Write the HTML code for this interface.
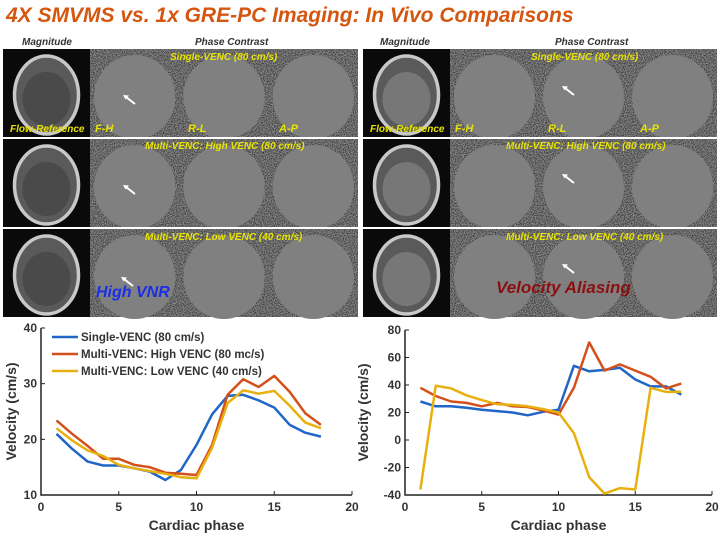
<!DOCTYPE html>
<html><head><meta charset="utf-8">
<style>
body{margin:0;width:720px;height:535px;background:#fff;position:relative;overflow:hidden;font-family:"Liberation Sans",sans-serif}
.abs{position:absolute}
.title{left:6px;top:4px;font-size:21px;font-weight:bold;font-style:italic;color:#d4560f;white-space:nowrap}
.hdr{font-size:10px;font-style:italic;font-weight:bold;color:#333}
.lab{font-size:10px;font-style:italic;font-weight:bold;color:#e8e400;white-space:nowrap}
</style></head><body>
<div class="abs title">4X SMVMS vs. 1x GRE-PC Imaging: In Vivo Comparisons</div>

<svg class="abs" style="left:0;top:0" width="720" height="320">
<defs>
<filter id="noise" x="0" y="0" width="100%" height="100%">
<feTurbulence type="fractalNoise" baseFrequency="0.9" numOctaves="2" seed="3"/>
<feColorMatrix type="matrix" values="0 0 0 0 0  0 0 0 0 0  0 0 0 0 0  0 0 0 -2.6 1.7"/>
</filter>
</defs>
<g id="panels"></g>
</svg>

<div class="abs hdr" style="left:22px;top:37px">Magnitude</div>
<div class="abs hdr" style="left:195px;top:37px">Phase Contrast</div>
<div class="abs hdr" style="left:380px;top:37px">Magnitude</div>
<div class="abs hdr" style="left:555px;top:37px">Phase Contrast</div>

<div class="abs lab" style="left:170px;top:52px">Single-VENC (80 cm/s)</div>
<div class="abs lab" style="left:10px;top:124px">Flow-Reference</div>
<div class="abs lab" style="left:95px;top:123px;font-size:11px">F-H</div>
<div class="abs lab" style="left:188px;top:123px;font-size:11px">R-L</div>
<div class="abs lab" style="left:279px;top:123px;font-size:11px">A-P</div>
<div class="abs lab" style="left:145px;top:141px">Multi-VENC: High VENC (80 cm/s)</div>
<div class="abs lab" style="left:145px;top:232px">Multi-VENC: Low VENC (40 cm/s)</div>
<div class="abs" style="left:96px;top:284px;font-size:16px;font-weight:bold;font-style:italic;color:#1a2ee8">High VNR</div>

<div class="abs lab" style="left:531px;top:52px">Single-VENC (80 cm/s)</div>
<div class="abs lab" style="left:370px;top:124px">Flow-Reference</div>
<div class="abs lab" style="left:455px;top:123px;font-size:11px">F-H</div>
<div class="abs lab" style="left:548px;top:123px;font-size:11px">R-L</div>
<div class="abs lab" style="left:640px;top:123px;font-size:11px">A-P</div>
<div class="abs lab" style="left:506px;top:141px">Multi-VENC: High VENC (80 cm/s)</div>
<div class="abs lab" style="left:506px;top:232px">Multi-VENC: Low VENC (40 cm/s)</div>
<div class="abs" style="left:496px;top:278px;font-size:17px;font-weight:bold;font-style:italic;color:#8b0f0f">Velocity Aliasing</div>

<svg class="abs" style="left:0;top:320px" width="720" height="215" id="charts"></svg>

<script>
// ---- chart data ----
const phases=[1,2,3,4,5,6,7,8,9,10,11,12,13,14,15,16,17,18];
const leftSingle=[21,18.3,16,15.3,15.3,14.8,14.2,12.7,14.5,19,24.5,27.8,28,27,25.7,22.6,21.2,20.5];
const leftHigh=[23.4,21,18.8,16.5,16.5,15.4,15,14,13.8,13.6,19,28,30.8,29.4,31.4,28.5,24.7,22.6];
const leftLow=[22,19.8,18,17,15.4,14.8,14.3,13.8,13.2,13,18.5,26.5,28.8,28.2,28.7,26,23,22];
const rightSingle=[28,24.5,24.5,23.5,22,21,20,18,20.5,22,54,50,51,52.5,44,39,39,33];
const rightHigh=[38,32,28,27,24.5,27,24.5,24,21.5,18.5,38,71,50.5,55,50.5,46,37.5,41];
const rightLow=[-36,39.5,37.5,32.5,29,26,25.5,24.5,22.5,20,5,-27,-39,-35,-36,38,35,35];
const xTicks=[0,5,10,15,20];
const leftYTicks=[10,20,30,40];
const rightYTicks=[-40,-20,0,20,40,60,80];
const legendLabels=['Single-VENC (80 cm/s)','Multi-VENC: High VENC (80 mc/s)','Multi-VENC: Low VENC (40 cm/s)'];
const colors=['#1f66c6','#d4501a','#e8b00f'];

// ---- MRI panels ----
const NS="http://www.w3.org/2000/svg";
const pg=document.getElementById('panels');
function mk(tag,attrs,parent){const e=document.createElementNS(NS,tag);for(const k in attrs)e.setAttribute(k,attrs[k]);(parent||pg).appendChild(e);return e;}
const rowsY=[49,139,229];
[[3,90,358],[363,450,717]].forEach(([mx,px,pe],pi)=>{
  rowsY.forEach((ry,ri)=>{
    const h=88;
    const m=mk('rect',{x:mx,y:ry,width:px-mx,height:h,fill:'#0a0a0a'});
    
    
    mk('ellipse',{cx:(mx+px)/2,cy:ry+h/2+2,rx:32,ry:39,fill:'#5a5a5a',stroke:'#c8c8c8','stroke-width':3.5});
    mk('ellipse',{cx:(mx+px)/2,cy:ry+h/2+6,rx:24,ry:27,fill:pi?'#777':'#4a4a4a'});
    const p=mk('rect',{x:px,y:ry,width:pe-px,height:h,fill:'#8a8a8a'});
    
    
    mk('rect',{x:px,y:ry,width:pe-px,height:h,fill:'#fff',filter:'url(#noise)',opacity:0.6});
    const w=(pe-px)/3;
    for(let c=0;c<3;c++){
      mk('ellipse',{cx:px+w*c+w/2,cy:ry+h/2+4,rx:w/2-4,ry:h/2-2,fill:'#808080'});
    }
  });
});
mk('line',{x1:0,y1:138,x2:720,y2:138,stroke:'#fff','stroke-width':2});
mk('line',{x1:0,y1:228,x2:720,y2:228,stroke:'#fff','stroke-width':2});
// arrows pointing up-left
[[135,104],[135,194],[133,286],[574,95],[574,183],[574,273]].forEach(([x,y])=>{
  mk('line',{x1:x,y1:y,x2:x-9,y2:y-7,stroke:'#fff','stroke-width':2});
  mk('path',{d:`M${x-12},${y-9}l6,0.5l-3.5,4z`,fill:'#fff'});
});

const svg=document.getElementById('charts');
function c(tag,attrs,txt){const e=document.createElementNS(NS,tag);for(const k in attrs)e.setAttribute(k,attrs[k]);if(txt!=null)e.textContent=txt;svg.appendChild(e);return e;}

function chart(x0,x1,yTop,yBot,ymin,ymax,yTicks,series,name,legend){
  const sx=v=>x0+(v-0)/(20-0)*(x1-x0);
  const sy=v=>yBot-(v-ymin)/(ymax-ymin)*(yBot-yTop);
  const ax=c('path',{d:`M${x0},${yTop}V${yBot}H${x1}`,fill:'none',stroke:'#222','stroke-width':1.5});
  
  
  xTicks.forEach(t=>{
    c('line',{x1:sx(t),y1:yBot,x2:sx(t),y2:yBot-4,stroke:'#222'});
    const l=c('text',{x:sx(t),y:yBot+16,'text-anchor':'middle','font-size':12,'font-weight':'bold',fill:'#333'},t);
    
    
  });
  yTicks.forEach(t=>{
    c('line',{x1:x0,y1:sy(t),x2:x0+4,y2:sy(t),stroke:'#222'});
    const l=c('text',{x:x0-4,y:sy(t)+4,'text-anchor':'end','font-size':12,'font-weight':'bold',fill:'#333'},t);
    
    
  });
  const xt=c('text',{x:(x0+x1)/2,y:yBot+35,'text-anchor':'middle','font-size':14,'font-weight':'bold',fill:'#333'},'Cardiac phase');
  
  
  const yc=(yTop+yBot)/2;
  const yt=c('text',{x:0,y:0,transform:`translate(${x0-(x0>300?37:25)},${yc}) rotate(-90)`,'text-anchor':'middle','font-size':14,'font-weight':'bold',fill:'#333'},'Velocity (cm/s)');
  
  
  series.forEach((s,i)=>{
    const d=phases.map((p,j)=>(j?'L':'M')+sx(p).toFixed(1)+','+sy(s[j]).toFixed(1)).join('');
    const pl=c('path',{d,fill:'none',stroke:colors[i],'stroke-width':2.5,'stroke-linejoin':'round'});
    
    
  });
  if(legend){
    legendLabels.forEach((lab,i)=>{
      const y=yTop+9+i*17;
      c('line',{x1:52,y1:y,x2:78,y2:y,stroke:colors[i],'stroke-width':2.5});
      const t=c('text',{x:81,y:y+4,'font-size':11.5,'font-weight':'bold',fill:'#333'},lab);
      
      
    });
  }
}
chart(41,352,8,175,10,40,leftYTicks,[leftSingle,leftHigh,leftLow],'left-chart',true);
chart(405,712,10,175,-40,80,rightYTicks,[rightSingle,rightHigh,rightLow],'right-chart',false);
</script>
</body></html>
